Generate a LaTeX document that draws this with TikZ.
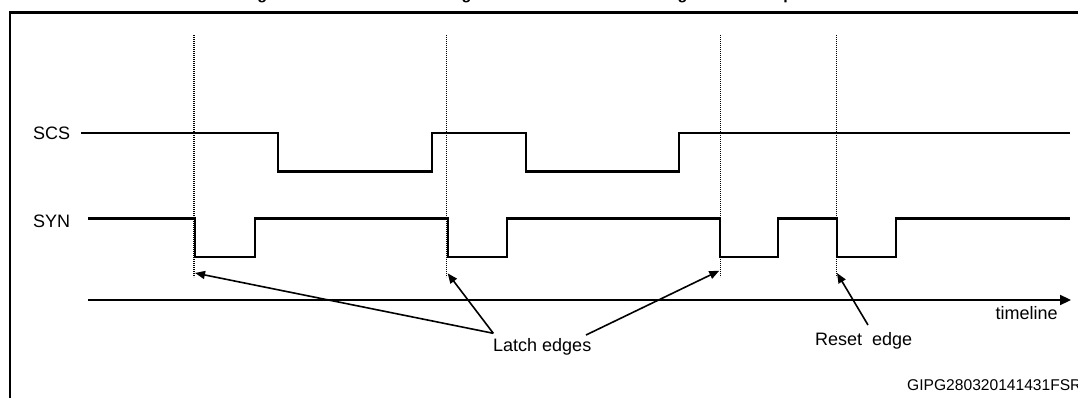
\documentclass[tikz,border=0pt]{standalone}
\usepackage{fontspec}
\setmainfont{Liberation Sans}
\usetikzlibrary{arrows.meta}
\begin{document}
\begin{tikzpicture}[x=1pt,y=-1pt,
  lbl/.style={anchor=base west,inner sep=0pt,font=\fontsize{18}{21}\selectfont},
  sig/.style={line width=2.4pt,line join=miter},
  vmark/.style={line width=1.4pt,dash pattern=on 1.2pt off 0.8pt},
  ptr/.style={line width=1.6pt,-{Triangle[length=10pt,width=8pt]}},
  frame/.style={line width=2pt}]
\fill[white] (0,0) rectangle (1078,398);
\useasboundingbox (0,0) rectangle (1078,398);
% title, cut off at the top edge as in the reference (only descenders visible)
\node[anchor=base west,inner sep=0pt,font=\bfseries\fontsize{16}{19}\selectfont] (title) at (243,-0.5) {Figure 8. SCS and SYN timing of the latches and reset edge in an example};
% frame
\draw[line width=3pt] (9,12.5) -- (1078,12.5);
\draw[frame] (10,11) -- (10,398);
% dotted markers
\foreach \n/\x in {m1/194,m2/446.5,m3/720.5,m4/836.5}{
  \coordinate (\n top) at (\x,35);
  \coordinate (\n bot) at (\x,277);
  \draw[vmark] (\n top) -- (\n bot);
}
% labels
\node[lbl] (scs) at (33,139.3) {SCS};
\node[lbl] (syn) at (33,227.3) {SYN};
% signals
\draw[sig] (81,133.3) -- (278,133.3) -- (278,171.7) -- (431.7,171.7) -- (431.7,133.3)
  -- (526,133.3) -- (526,171.7) -- (679,171.7) -- (679,133.3) -- (1070,133.3);
\draw[sig] (88,218.3) -- (195,218.3) -- (195,256.7) -- (255,256.7) -- (255,218.3)
  -- (448,218.3) -- (448,256.7) -- (506.7,256.7) -- (506.7,218.3)
  -- (719.7,218.3) -- (719.7,256.7) -- (778,256.7) -- (778,218.3)
  -- (836.7,218.3) -- (836.7,256.7) -- (895.7,256.7) -- (895.7,218.3) -- (1070,218.3);
% timeline
\coordinate (tl0) at (88,300);
\coordinate (tl1) at (1071,300);
\draw[line width=2.2pt,-{Triangle[length=11pt,width=10pt]}] (tl0) -- (tl1);
\node[lbl] (tlabel) at (995.5,319.3) {timeline};
% latch edges
\node[lbl] (latch) at (493,351.7) {Latch edges};
\coordinate (la) at (493.3,333.3);
\coordinate (lc) at (586,335);
\coordinate (ta) at (195,273);
\coordinate (tb) at (447.7,273.3);
\coordinate (tc) at (719.3,270.7);
\draw[ptr] (la) -- (ta);
\draw[ptr] (la) -- (tb);
\draw[ptr] (lc) -- (tc);
% reset edge
\node[lbl] (reset) at (815,345.7) {Reset\ \ edge};
\coordinate (rs) at (868,325);
\coordinate (tr) at (837,273);
\draw[ptr] (rs) -- (tr);
% figure code (cut at the right edge as in the reference)
\node[anchor=base west,inner sep=0pt,font=\fontsize{15.6}{19}\selectfont] (code) at (907,390) {GIPG280320141431FSR};
\end{tikzpicture}
\end{document}
